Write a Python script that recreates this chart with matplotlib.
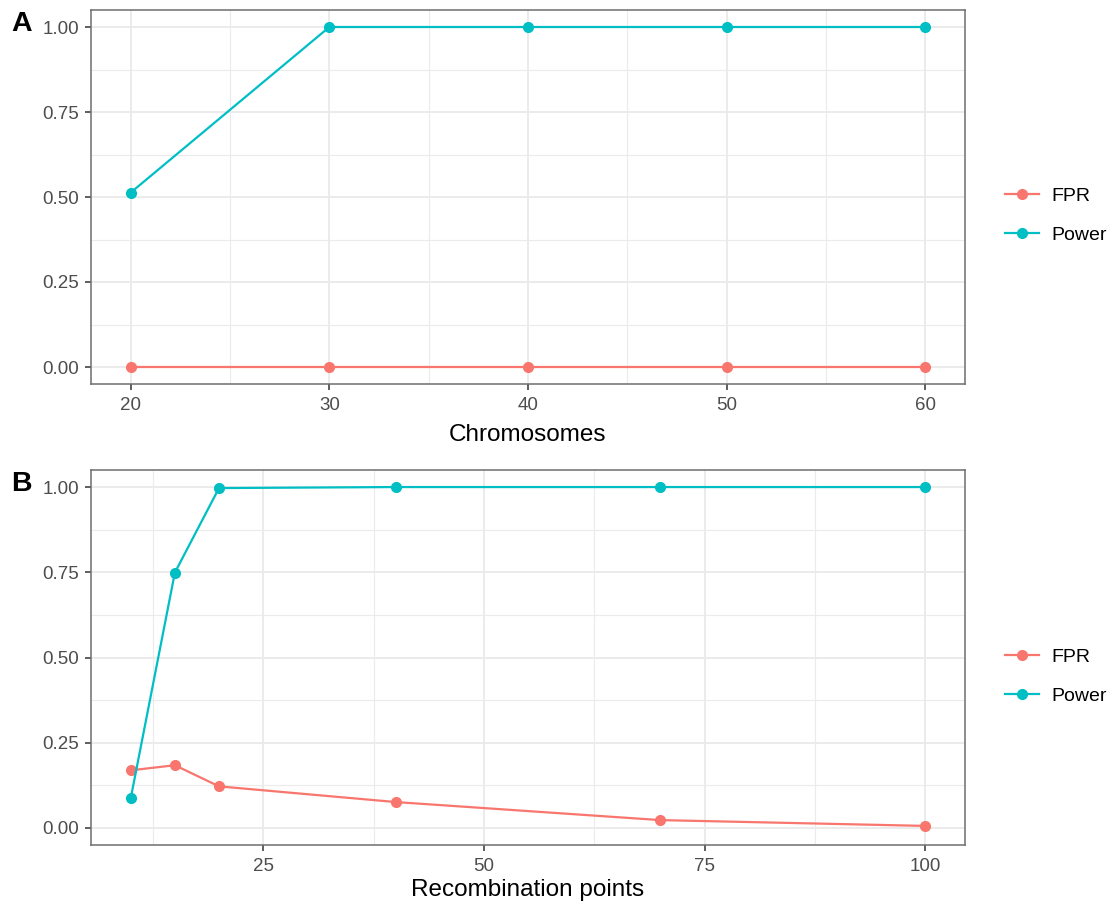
import matplotlib.pyplot as plt
import numpy as np

plt.rcParams['font.family'] = ['Liberation Sans', 'DejaVu Sans']

# Panel A data
chrom = [20, 30, 40, 50, 60]
chrom_fpr = [0.0, 0.0, 0.0, 0.0, 0.0]
chrom_power = [0.513, 1.0, 1.0, 1.0, 1.0]

# Panel B data
recomb = [10, 15, 20, 40, 70, 100]
recomb_fpr = [0.169, 0.184, 0.122, 0.076, 0.023, 0.006]
recomb_power = [0.087, 0.749, 0.997, 1.0, 1.0, 1.0]

red = '#F8766D'
teal = '#00BFC4'
grid_col = '#EBEBEB'

fig = plt.figure(figsize=(11.15, 9.10), dpi=100)
W, H = 1115, 910
axA = fig.add_axes([91 / W, 1 - 384 / H, (965 - 91) / W, (384 - 10) / H])
axB = fig.add_axes([91 / W, 1 - 845 / H, (965 - 91) / W, (845 - 470) / H])


def style(ax, xmaj, xmin, xlim, xlabel, lpad):
    ax.set_xlim(*xlim)
    ax.set_ylim(-0.05, 1.05)
    ax.set_xticks(xmaj)
    ax.set_xticks(xmin, minor=True)
    ax.set_yticks([0, 0.25, 0.5, 0.75, 1.0])
    ax.set_yticklabels(['0.00', '0.25', '0.50', '0.75', '1.00'])
    ax.set_yticks([0.125, 0.375, 0.625, 0.875], minor=True)
    ax.grid(which='major', color=grid_col, lw=1.4)
    ax.grid(which='minor', color=grid_col, lw=0.8)
    ax.set_axisbelow(True)
    for s in ax.spines.values():
        s.set_color('#6E6E6E')
        s.set_linewidth(1.1)
    ax.tick_params(which='major', length=4.5, width=1.1, color='#333333',
                   labelsize=13.5, labelcolor='#4D4D4D', pad=4)
    ax.tick_params(axis='x', pad=5)
    ax.tick_params(which='minor', length=0)
    ax.set_xlabel(xlabel, fontsize=17.5, color='black', labelpad=lpad)


def draw(ax, x, fpr, power):
    ax.plot(x, fpr, color=red, lw=1.6, marker='o', ms=7, label='FPR', zorder=3)
    ax.plot(x, power, color=teal, lw=1.6, marker='o', ms=7, label='Power', zorder=3)
    ax.legend(loc='center left', bbox_to_anchor=(1.026, 0.45), frameon=False,
              fontsize=14, handlelength=1.75, labelspacing=1.1, handletextpad=0.6)


draw(axA, chrom, chrom_fpr, chrom_power)
style(axA, [20, 30, 40, 50, 60], [25, 35, 45, 55], (18, 62), 'Chromosomes', 7)

draw(axB, recomb, recomb_fpr, recomb_power)
style(axB, [25, 50, 75, 100], [12.5, 37.5, 62.5, 87.5], (5.5, 104.5),
      'Recombination points', 3)

fig.text(11 / W, 1 - 24 / H, 'A', fontsize=20.5, fontweight='bold', va='center')
fig.text(11 / W, 1 - 484 / H, 'B', fontsize=20.5, fontweight='bold', va='center')

fig.savefig('out.png', dpi=100)
